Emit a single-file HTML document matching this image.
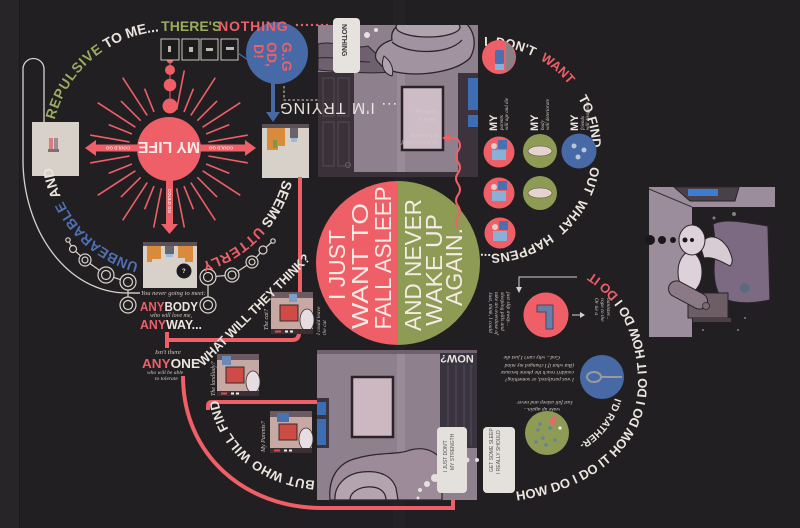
<!DOCTYPE html>
<html><head><meta charset="utf-8">
<style>
html,body{margin:0;padding:0;background:#211f21;}
svg{display:block;}
.w{fill:#ebe5de;}
.b{font-family:"Liberation Sans",sans-serif;font-weight:bold;}
.r{font-family:"Liberation Sans",sans-serif;}
.t{font-family:"Liberation Serif",serif;font-style:italic;fill:#d3cbc3;}
</style></head>
<body>
<svg width="800" height="528" viewBox="0 0 800 528" xmlns="http://www.w3.org/2000/svg">
<defs>
<path id="p1" d="M287,149 A118,118 0 1 1 169,31 L340,31"/>
<path id="p2" d="M469.9,47.6 A104,104 0 1 1 469.9,252.4"/>
<path id="p3" d="M490,503 C568,500 648,462 647,380 C646,332 626,292 588,270"/>
<path id="p4" d="M318,481 C270,478 228,450 218,400"/>
<path id="p5" d="M615,398 Q603,436 566,450"/>
<clipPath id="tp"><rect x="318" y="25" width="160" height="152"/></clipPath>
<g id="room">
<rect x="0" y="0" width="42" height="42" fill="#c5a9a2"/>
<rect x="0" y="0" width="42" height="6" fill="#6c5a62"/>
<rect x="9" y="13" width="18" height="16" fill="#cf4b45" stroke="#3a2a2c" stroke-width="1"/>
<ellipse cx="36" cy="28" rx="7" ry="11" fill="#e6dde2" stroke="#3a2f33" stroke-width="0.8"/>
<rect x="0" y="37" width="42" height="5" fill="#3a2f33"/>
<rect x="4" y="38.5" width="6" height="2" fill="#e04e48"/>
<rect x="14" y="38.5" width="3" height="2" fill="#eee"/>
<rect x="19" y="38.5" width="3" height="2" fill="#eee"/>
</g>
</defs>

<rect width="800" height="528" fill="#211f21"/>
<rect x="0" y="0" width="19" height="528" fill="#272527"/>
<line x1="19.5" y1="0" x2="19.5" y2="528" stroke="#1a191a" stroke-width="1"/>
<rect x="393" y="0" width="12" height="528" fill="#242224"/>

<!-- white loop line -->
<path d="M44,122 V69 A10.5,10.5 0 0 0 23,69 V160 C23,228 65,293 128,293 L140,293" fill="none" stroke="#d8d2cb" stroke-width="1.3"/>

<!-- left square -->
<rect x="32" y="122" width="47" height="54" fill="#d7d1ca"/>
<rect x="49" y="138" width="4" height="12" fill="#e07a80"/>
<rect x="54" y="138" width="4" height="12" fill="#9a9094"/>
<rect x="48" y="149" width="11" height="3" fill="#7a7075"/>

<!-- MY LIFE rays -->
<g stroke="#ee5f68" stroke-width="1.6">
<line x1="208.4" y1="156" x2="247.8" y2="162.9"/>
<line x1="206.1" y1="164" x2="229.3" y2="173.4"/>
<line x1="202.6" y1="170.8" x2="240.3" y2="195.3"/>
<line x1="197.3" y1="177.3" x2="217.1" y2="197.1"/>
<line x1="190.8" y1="182.6" x2="215.3" y2="220.3"/>
<line x1="184" y1="186.1" x2="193.4" y2="209.3"/>
<line x1="176.6" y1="188.3" x2="184.3" y2="227.5"/>
<line x1="161.4" y1="188.3" x2="153.7" y2="227.5"/>
<line x1="154" y1="186.1" x2="144.6" y2="209.3"/>
<line x1="147.2" y1="182.6" x2="122.7" y2="220.3"/>
<line x1="140.7" y1="177.3" x2="120.9" y2="197.1"/>
<line x1="135.4" y1="170.8" x2="97.7" y2="195.3"/>
<line x1="131.9" y1="164" x2="108.7" y2="173.4"/>
<line x1="129.6" y1="156" x2="90.2" y2="162.9"/>
<line x1="129.6" y1="142" x2="90.2" y2="135.1"/>
<line x1="131.9" y1="134" x2="108.7" y2="124.6"/>
<line x1="135.4" y1="127.2" x2="97.7" y2="102.7"/>
<line x1="140.7" y1="120.7" x2="120.9" y2="100.9"/>
<line x1="147.2" y1="115.4" x2="122.7" y2="77.7"/>
<line x1="154" y1="111.9" x2="144.6" y2="88.7"/>
<line x1="176.6" y1="109.7" x2="184.3" y2="70.5"/>
<line x1="184" y1="111.9" x2="193.4" y2="88.7"/>
<line x1="190.8" y1="115.4" x2="215.3" y2="77.7"/>
<line x1="197.3" y1="120.7" x2="217.1" y2="100.9"/>
<line x1="202.6" y1="127.2" x2="240.3" y2="102.7"/>
<line x1="206.1" y1="134" x2="229.3" y2="124.6"/>
<line x1="208.4" y1="142" x2="247.8" y2="135.1"/>
</g>
<!-- arrows -->
<rect x="95" y="144.5" width="45" height="7" fill="#ee5f68"/>
<polygon points="85,148 96,140 96,156" fill="#ee5f68"/>
<rect x="198" y="144.5" width="47" height="7" fill="#ee5f68"/>
<polygon points="256,148 245,140 245,156" fill="#ee5f68"/>
<rect x="166" y="178" width="7" height="47" fill="#ee5f68"/>
<polygon points="169.5,234 161,224 178,224" fill="#ee5f68"/>
<text class="b" font-size="4.5" fill="#f4ddd8" transform="translate(118,146.5) rotate(180)" text-anchor="middle">COULD GO</text>
<text class="b" font-size="4.5" fill="#f4ddd8" transform="translate(221,146.5) rotate(180)" text-anchor="middle">COULD GO</text>
<text class="b" font-size="4.5" fill="#f4ddd8" transform="translate(168,201) rotate(90)" text-anchor="middle">COULD GO</text>
<!-- small circles up -->
<line x1="170" y1="60" x2="170" y2="106" stroke="#ee5f68" stroke-width="1"/>
<circle cx="170" cy="106" r="7.5" fill="#ee5f68"/>
<circle cx="170" cy="85" r="6.3" fill="#ee5f68"/>
<circle cx="170" cy="70" r="5" fill="#ee5f68"/>
<circle cx="170" cy="60" r="3.3" fill="#ee5f68"/>
<!-- MY LIFE circle -->
<circle cx="169" cy="149" r="32" fill="#ee5f68"/>
<text class="b" font-size="16" fill="#f7ece6" transform="translate(169,142) rotate(180)" text-anchor="middle" textLength="62" lengthAdjust="spacingAndGlyphs">MY LIFE</text>

<!-- top small squares -->
<g stroke="#cbc5bf" stroke-width="1" fill="#1c1b1c">
<rect x="161" y="39" width="18" height="21"/>
<rect x="182" y="39" width="17" height="21"/>
<rect x="201" y="39" width="17" height="21"/>
<rect x="221" y="39" width="17" height="21"/>
</g>
<g fill="#bdb7b1"><rect x="168" y="46" width="3" height="6"/><rect x="189" y="47" width="4" height="5"/><rect x="206" y="48" width="7" height="3"/><rect x="226" y="47" width="8" height="3"/></g>
<line x1="238" y1="53" x2="248" y2="60" stroke="#4a6cab" stroke-width="1.2"/>

<!-- blue circle -->
<circle cx="277" cy="53" r="31" fill="#4769a6"/>
<rect x="271" y="82" width="4" height="32" fill="#4769a6"/>
<polygon points="273,122 266,112 280,112" fill="#4769a6"/>
<text class="b" font-size="14" fill="#ee5f68" transform="translate(282,42) rotate(90)">G..G</text>
<text class="b" font-size="14" fill="#ee5f68" transform="translate(267,42) rotate(90)">OD,</text>
<text class="b" font-size="14" fill="#ee5f68" transform="translate(254,44) rotate(90)">D!</text>
<path d="M284,86 V100 H322" fill="none" stroke="#d8d2cb" stroke-width="1" stroke-dasharray="2.5,2"/>

<!-- right square -->
<rect x="262" y="124" width="47" height="54" fill="#d7d1ca"/>
<rect x="262" y="124" width="47" height="4" fill="#5a5055"/>
<path d="M267,128 H285 V146 H278 V150 H267 Z" fill="#d98a3a"/>
<rect x="273" y="140" width="4" height="8" fill="#7a9a4a"/>
<rect x="290" y="128" width="8" height="10" fill="#6a6468"/>
<rect x="291" y="138" width="6" height="4" fill="#9ab8d8"/>

<!-- bottom square -->
<rect x="143" y="242" width="54" height="46" fill="#d7d1ca"/>
<rect x="143" y="242" width="54" height="4" fill="#5a5055"/>
<path d="M147,246 H161 V259 H152 V262 H147 Z" fill="#d98a3a"/>
<path d="M178,246 H193 V262 H185 V258 H178 Z" fill="#d98a3a"/>
<rect x="165" y="246" width="9" height="8" fill="#6a6468"/>
<rect x="166" y="254" width="7" height="3" fill="#9ab8d8"/>
<circle cx="184" cy="271" r="7.5" fill="#1d1b1d"/>
<text class="b" font-size="6" fill="#eee" x="182" y="273">?</text>

<!-- circle chains -->
<g fill="none" stroke="#d8d2cb" stroke-width="1.2">
<path d="M68,240 L73,249 L85,260 L106,275 L128,282 L128,305"/>
<circle cx="68" cy="240" r="2.2" fill="#211f21"/>
<circle cx="73" cy="249" r="3.5" fill="#211f21"/>
<circle cx="85" cy="260" r="6" fill="#211f21"/><circle cx="85" cy="260" r="3"/>
<circle cx="106" cy="275" r="8" fill="#211f21"/><circle cx="106" cy="275" r="4.5"/>
<circle cx="128" cy="282" r="8" fill="#211f21"/><circle cx="128" cy="282" r="4.5"/>
<circle cx="128" cy="305" r="8" fill="#211f21"/><circle cx="128" cy="305" r="4.5"/>
<path d="M273,241 L263,250 L252,262 L232,275 L208,277 L208,305"/>
<circle cx="273" cy="241" r="2.2" fill="#211f21"/>
<circle cx="263" cy="250" r="4" fill="#211f21"/>
<circle cx="252" cy="262" r="6" fill="#211f21"/><circle cx="252" cy="262" r="3"/>
<circle cx="232" cy="275" r="7" fill="#211f21"/><circle cx="232" cy="275" r="4"/>
<circle cx="208" cy="277" r="8" fill="#211f21"/><circle cx="208" cy="277" r="4.5"/>
<circle cx="208" cy="305" r="8" fill="#211f21"/><circle cx="208" cy="305" r="4.5"/>
</g>
<line x1="128" y1="293" x2="140" y2="293" stroke="#d8d2cb" stroke-width="1.2"/>

<!-- arc text left -->
<text class="b" font-size="14"><textPath href="#p1" startOffset="31" class="w">SEEMS</textPath></text>
<text class="b" font-size="14" letter-spacing="0.8"><textPath href="#p1" startOffset="84" fill="#ee5f68">UTTERLY</textPath></text>
<text class="b" font-size="14" letter-spacing="0.3"><textPath href="#p1" startOffset="216" fill="#4f71b3">UNBEARABLE</textPath></text>
<text class="b" font-size="14"><textPath href="#p1" startOffset="322" class="w">AND</textPath></text>
<text class="b" font-size="14" letter-spacing="0.8"><textPath href="#p1" startOffset="400" fill="#9bab5f">REPULSIVE</textPath></text>
<text class="b" font-size="14"><textPath href="#p1" startOffset="490" class="w">TO ME...</textPath></text>
<text class="b" font-size="14"><textPath href="#p1" startOffset="548" fill="#9bab5f">THERE'S</textPath></text>
<text class="b" font-size="14" letter-spacing="0.8"><textPath href="#p1" startOffset="605" fill="#ee5f68">NOTHING</textPath></text>
<g fill="#ee5f68"><circle cx="297" cy="25" r="1.2"/><circle cx="302" cy="25" r="1.2"/><circle cx="307" cy="25" r="1.2"/><circle cx="312" cy="25" r="1.2"/><circle cx="317" cy="25" r="1.2"/><circle cx="322" cy="25" r="1.2"/><circle cx="327" cy="25" r="1.2"/></g>

<!-- ANYBODY texts -->
<text class="t" font-size="6.5" x="141" y="295">You never going to meet:</text>
<text class="b" font-size="13" x="140" y="311" textLength="58" lengthAdjust="spacingAndGlyphs"><tspan fill="#ee5f68">ANY</tspan><tspan class="w">BODY</tspan></text>
<text class="t" font-size="6" x="150" y="317">who will love me,</text>
<text class="b" font-size="13" x="140" y="329" textLength="62" lengthAdjust="spacingAndGlyphs"><tspan fill="#ee5f68">ANY</tspan><tspan class="w">WAY...</tspan></text>
<text class="t" font-size="6.5" x="155" y="354">Isn't there</text>
<text class="b" font-size="13" x="142" y="368" textLength="58" lengthAdjust="spacingAndGlyphs"><tspan fill="#ee5f68">ANY</tspan><tspan class="w">ONE</tspan></text>
<text class="t" font-size="5.5" x="147" y="374">who will be able</text>
<text class="t" font-size="5.5" x="155" y="380">to tolerate</text>

<!-- pink lines -->
<g fill="none" stroke="#ee5f68" stroke-width="4">
<path d="M300,177 V292"/>
<path d="M167,340 H292 Q299,340 299,333"/>
<path d="M167,332 V348"/>
<path d="M183,376 C183,455 245,508 322,508 L453,508 L453,494"/>
<path d="M208,410 V406 Q208,402 212,402 L444,402 Q448,402 448,406 V428"/>
</g>

<!-- small panels -->
<use href="#room" transform="translate(271,292)"/>
<rect x="289" y="294" width="8" height="8" fill="#7aa0c8"/>
<use href="#room" transform="translate(217,354)"/>
<rect x="222" y="356" width="9" height="9" fill="#6a88b8"/>
<use href="#room" transform="translate(270,411)"/>
<rect x="277" y="413" width="12" height="9" fill="#4a72b0"/>
<text class="t" font-size="6" transform="translate(268,330) rotate(-90)">The cat?</text>
<text class="t" font-size="5.5" transform="translate(320,335) rotate(-90)">I could leave</text>
<text class="t" font-size="5.5" transform="translate(326,335) rotate(-90)">the cat</text>
<text class="t" font-size="6" transform="translate(215,396) rotate(-90)">The landlady?</text>
<text class="t" font-size="6" transform="translate(265,452) rotate(-90)">My Parents?</text>

<!-- WHAT WILL THEY THINK / BUT WHO WILL FIND -->
<text class="b w" font-size="13" text-anchor="middle" transform="translate(257,313) rotate(-45)" textLength="152" lengthAdjust="spacingAndGlyphs">WHAT WILL THEY THINK?</text>
<text class="b" font-size="13" letter-spacing="0.3"><textPath href="#p4" startOffset="3" class="w">BUT WHO WILL FIND</textPath></text>

<!-- TOP PANEL -->
<rect x="318" y="25" width="160" height="152" fill="#8f808e"/>
<g clip-path="url(#tp)">
<rect x="397" y="25" width="8" height="152" fill="#9a8b98"/>
<path d="M318,44 C335,40 352,50 368,46 C376,54 382,60 390,58 L392,72 C370,74 340,72 318,70 Z" fill="#6f6070" stroke="#2b2428" stroke-width="1"/>
<path d="M318,58 C335,56 352,62 370,62" fill="none" stroke="#2b2428" stroke-width="1"/>
<path d="M380,64 C370,56 378,44 392,40 C390,30 398,22 412,20 L462,20 C474,28 478,44 470,58 C456,72 420,77 396,72 C388,70 383,68 380,64 Z" fill="#a293a0" stroke="#2b2428" stroke-width="1.3"/>
<path d="M392,42 C405,54 448,56 462,40" fill="none" stroke="#2b2428" stroke-width="1.3"/>
<ellipse cx="428" cy="27" rx="32" ry="10" fill="#b1a3ad" stroke="#2b2428" stroke-width="1.3"/>
<path d="M384,56 C380,66 384,74 392,76 C394,70 392,62 384,56 Z" fill="#b1a3ad" stroke="#2b2428" stroke-width="1"/>
<rect x="318" y="72" width="36" height="102" fill="#3b3239"/>
<rect x="323" y="78" width="11" height="38" fill="none" stroke="#52474f" stroke-width="1.2"/>
<rect x="338" y="78" width="11" height="38" fill="none" stroke="#52474f" stroke-width="1.2"/>
<rect x="323" y="122" width="11" height="44" fill="none" stroke="#52474f" stroke-width="1.2"/>
<rect x="338" y="122" width="11" height="44" fill="none" stroke="#52474f" stroke-width="1.2"/>
<circle cx="348" cy="165" r="2.5" fill="none" stroke="#6a5e66"/>
<rect x="318" y="172" width="160" height="5" fill="#3b3239"/>
<rect x="402" y="87" width="41" height="63" fill="#cdbcc6" stroke="#2a2328" stroke-width="2.5"/>
<rect x="458" y="73" width="20" height="104" fill="#3c333d"/>
<rect x="468" y="78" width="10" height="32" fill="#3d6db2"/>
<rect x="468" y="115" width="10" height="12" fill="#3d6db2"/>
</g>
<text class="t" font-size="5.5" fill="#3a3035" transform="translate(438,110) rotate(180)">Sheltering...</text>
<text class="t" font-size="5.5" fill="#3a3035" transform="translate(436,118) rotate(180)">life is so</text>
<text class="t" font-size="5.5" fill="#3a3035" transform="translate(438,134) rotate(180)">Is it possible</text>
<text class="t" font-size="5.5" fill="#3a3035" transform="translate(436,141) rotate(180)">to bore yourself</text>
<!-- NOTHING bubble -->
<rect x="333" y="18" width="27" height="55" rx="4" fill="#e6e2de"/>
<text class="b" font-size="7" fill="#3a3538" transform="translate(342,24) rotate(90)">NOTHING</text>
<circle cx="367" cy="35" r="3" fill="#e6e2de"/>
<circle cx="376" cy="30" r="2" fill="#e6e2de"/>
<text class="r w" font-size="16" text-anchor="middle" transform="translate(338.5,103) rotate(180)" textLength="117" lengthAdjust="spacing">... I'M TRYING</text>

<!-- BOTTOM PANEL -->
<rect x="317" y="350" width="160" height="150" fill="#8f808e"/>
<rect x="397" y="350" width="8" height="150" fill="#9a8b98"/>
<rect x="317" y="350" width="160" height="4" fill="#6e606c"/>
<rect x="440" y="353" width="37" height="95" fill="#3a3440"/>
<g stroke="#564c58" stroke-width="1"><line x1="448" y1="365" x2="448" y2="446"/><line x1="456" y1="365" x2="456" y2="446"/><line x1="464" y1="365" x2="464" y2="446"/><line x1="471" y1="365" x2="471" y2="446"/></g>
<text class="b w" font-size="11" text-anchor="middle" transform="translate(457,355) rotate(180)">NOW?</text>
<rect x="317" y="398" width="12" height="50" fill="#3a3440"/>
<rect x="317" y="402" width="9" height="13" fill="#3d6db2"/>
<rect x="317" y="419" width="9" height="26" fill="#3d6db2"/>
<rect x="352" y="377" width="41" height="60" fill="#cdb7c1" stroke="#2a2328" stroke-width="2.5"/>
<path d="M330,500 C328,478 338,462 358,458 C378,452 398,455 410,450 C425,446 438,452 442,462 L442,500 Z" fill="#9d8b99" stroke="#2b2428" stroke-width="1.2"/>
<path d="M335,500 C334,486 345,474 362,472 C380,470 392,476 396,488 L398,500 Z" fill="#b4a4af" stroke="#2b2428" stroke-width="1.2"/>
<path d="M350,500 C350,492 360,486 372,487 C384,488 386,496 386,500" fill="none" stroke="#2b2428" stroke-width="1.2"/>
<rect x="437" y="427" width="30" height="66" rx="4" fill="#e4e0dc"/>
<rect x="483" y="427" width="32" height="66" rx="4" fill="#e4e0dc"/>
<text class="r" font-size="5" fill="#555" transform="translate(454,470) rotate(-90)">MY STRENGTH</text>
<text class="r" font-size="5" fill="#555" transform="translate(447,472) rotate(-90)">I JUST DON'T</text>
<text class="r" font-size="5" fill="#555" transform="translate(500,474) rotate(-90)">I REALLY SHOULD</text>
<text class="r" font-size="5" fill="#555" transform="translate(493,472) rotate(-90)">GET SOME SLEEP</text>
<circle cx="467" cy="460" r="2.5" fill="#e4e0dc"/>
<circle cx="477" cy="460" r="2" fill="#e4e0dc"/>
<circle cx="435" cy="478" r="4" fill="#e4e0dc"/>
<circle cx="427" cy="484" r="3" fill="#e4e0dc"/>
<circle cx="420" cy="490" r="2" fill="#e4e0dc"/>
<circle cx="418" cy="498" r="1.5" fill="#e4e0dc"/>

<!-- BIG CIRCLE -->
<path d="M398,181 A82,82 0 0 0 398,345 Z" fill="#ee5f68"/>
<path d="M398,181 A82,82 0 0 1 398,345 Z" fill="#8d9b55"/>
<g class="r" fill="#f6ece6" font-size="23" text-anchor="middle">
<text transform="translate(345,265) rotate(-90)" textLength="70" lengthAdjust="spacingAndGlyphs">I JUST</text>
<text transform="translate(368,266) rotate(-90)" textLength="126" lengthAdjust="spacingAndGlyphs">WANT TO</text>
<text transform="translate(391,258) rotate(-90)" textLength="143" lengthAdjust="spacingAndGlyphs">FALL ASLEEP</text>
<text transform="translate(421,265) rotate(-90)" textLength="132" lengthAdjust="spacingAndGlyphs">AND NEVER</text>
<text transform="translate(442,270) rotate(-90)" textLength="112" lengthAdjust="spacingAndGlyphs">WAKE UP</text>
<text transform="translate(462,267) rotate(-90)" textLength="78" lengthAdjust="spacingAndGlyphs">AGAIN.</text>
</g>
<!-- wavy arrow -->
<path d="M458,228 q-4,-5.5 0,-11 t0,-11 t0,-11 t0,-11 t0,-11 t0,-11 t0,-11 t0,-11 Q458,138 448,138" fill="none" stroke="#ee5f68" stroke-width="2"/>
<polygon points="442,138 449,134 449,142" fill="#ee5f68"/>

<!-- RIGHT ARC TEXT -->
<text class="b" font-size="13"><textPath href="#p2" startOffset="14.5" class="w">I</textPath></text>
<text class="b" font-size="13"><textPath href="#p2" startOffset="25.4" class="w">DON'T</textPath></text>
<text class="b" font-size="13"><textPath href="#p2" startOffset="72.6" fill="#ee5f68">WANT</textPath></text>
<text class="b" font-size="13"><textPath href="#p2" startOffset="127" class="w">TO</textPath></text>
<text class="b" font-size="13"><textPath href="#p2" startOffset="149" class="w">FIND</textPath></text>
<text class="b" font-size="13"><textPath href="#p2" startOffset="198" class="w">OUT</textPath></text>
<text class="b" font-size="13"><textPath href="#p2" startOffset="232" class="w">WHAT</textPath></text>
<text class="b" font-size="13"><textPath href="#p2" startOffset="279" class="w">HAPPENS...</textPath></text>

<!-- right small circles -->
<circle cx="499" cy="57" r="17" fill="#ee5f68"/>
<path d="M506,42 A17,17 0 0 1 506,72 Z" fill="#8a8088"/>
<rect x="495" y="50" width="9" height="14" rx="2" fill="#4a70b0"/>
<rect x="495" y="64" width="9" height="6" fill="#8ab0d8"/>
<circle cx="499" cy="152" r="15.5" fill="#ee5f68"/>
<circle cx="499" cy="193" r="15.5" fill="#ee5f68"/>
<circle cx="500" cy="233" r="15.5" fill="#ee5f68"/>
<circle cx="540" cy="151" r="17" fill="#8d9b55"/>
<circle cx="540" cy="193" r="17" fill="#8d9b55"/>
<circle cx="579" cy="151" r="17.5" fill="#4769a6"/>
<g fill="#8ab0d8"><path d="M492,150 h14 v10 h-14z"/><path d="M492,191 h14 v10 h-14z"/><path d="M493,231 h14 v10 h-14z"/></g>
<g fill="#4a70b0"><path d="M498,140 h9 v9 h-9z"/><path d="M498,181 h9 v9 h-9z"/><path d="M499,221 h9 v9 h-9z"/></g>
<g fill="#ddd0cc"><circle cx="494" cy="146" r="3"/><circle cx="494" cy="187" r="3"/><circle cx="495" cy="227" r="3"/></g>
<ellipse cx="540" cy="151" rx="12" ry="5" fill="#e6d3d0" stroke="#5a4a48" stroke-width="0.6"/>
<ellipse cx="540" cy="193" rx="12" ry="5" fill="#e6d3d0" stroke="#5a4a48" stroke-width="0.6"/>
<g fill="#b8c6d8"><circle cx="574" cy="146" r="2.5"/><circle cx="584" cy="150" r="2.5"/><circle cx="578" cy="157" r="2.5"/></g>
<g class="b w" font-size="11">
<text transform="translate(497,131) rotate(-90)">MY</text>
<text transform="translate(538,131) rotate(-90)">MY</text>
<text transform="translate(578,131) rotate(-90)">MY</text>
</g>
<g class="t" font-size="5">
<text transform="translate(503,130) rotate(-90)">parents</text>
<text transform="translate(508,130) rotate(-90)">will age and die</text>
<text transform="translate(544,130) rotate(-90)">body</text>
<text transform="translate(549,130) rotate(-90)">will deteriorate</text>
<text transform="translate(584,130) rotate(-90)">friends</text>
<text transform="translate(589,130) rotate(-90)">will disappear</text>
</g>

<!-- lower right -->
<path d="M577,277 H519 V288" fill="none" stroke="#d8d2cb" stroke-width="1"/>
<polygon points="519,293 516,287 522,287" fill="#d8d2cb"/>
<circle cx="546" cy="315" r="22.5" fill="#ee5f68"/>
<path d="M537,305 H553 V329 H546 V312 H537 Z" fill="#6a7fa8" stroke="#3a3a4a" stroke-width="0.8"/>
<line x1="572" y1="315" x2="581" y2="315" stroke="#d8d2cb" stroke-width="1"/>
<polygon points="585,315 580,312 580,318" fill="#d8d2cb"/>
<circle cx="602" cy="377" r="22" fill="#4769a6"/>
<ellipse cx="594" cy="377" rx="7" ry="5" fill="none" stroke="#9a9a9a" stroke-width="2"/>
<line x1="601" y1="377" x2="622" y2="377" stroke="#9a9a9a" stroke-width="2"/>
<circle cx="547" cy="433" r="22" fill="#8d9b55"/>
<g fill="#6a80a0"><circle cx="538" cy="430" r="1.8"/><circle cx="543" cy="438" r="1.8"/><circle cx="550" cy="428" r="1.8"/><circle cx="536" cy="442" r="1.8"/><circle cx="555" cy="440" r="1.8"/><circle cx="546" cy="445" r="1.8"/><circle cx="540" cy="424" r="1.8"/></g>
<rect x="551" y="416" width="5" height="9" rx="1" fill="#e06a6a" transform="rotate(25,553,420)"/>
<circle cx="560" cy="428" r="1.6" fill="#eee"/>

<g class="t" font-size="5.5">
<text transform="translate(489,292) rotate(90)">Just, think, I could</text>
<text transform="translate(495,292) rotate(90)">take an overdose of</text>
<text transform="translate(501,292) rotate(90)">sleeping pills and</text>
<text transform="translate(507,292) rotate(90)">just slip away...</text>
<text transform="translate(595,298) rotate(90)">Or tie a</text>
<text transform="translate(601,298) rotate(90)">rope to the</text>
<text transform="translate(607,298) rotate(90)">banister...</text>
<text transform="translate(560,356) rotate(180)">God... why can't I just die</text>
<text transform="translate(574,364) rotate(180)">(But what if I changed my mind</text>
<text transform="translate(574,371) rotate(180)">couldn't reach the phone because</text>
<text transform="translate(574,378) rotate(180)">I was paralyzed, or something?</text>
<text transform="translate(573,401) rotate(180)">Just fall asleep and never</text>
<text transform="translate(560,408) rotate(180)">wake up again...</text>
</g>

<text class="b" font-size="13" letter-spacing="0.3"><textPath href="#p3" startOffset="27" class="w">HOW DO I DO IT HOW DO I DO IT HOW DO I <tspan fill="#ee5f68">DO IT</tspan>?</textPath></text>
<text class="b w" font-size="10"><textPath href="#p5" startOffset="0">I'D RATHER-</textPath></text>

<!-- RIGHT BIG PANEL -->
<path d="M649,187 H775 V207 H692 V337 H649 Z" fill="#9b8d9b"/>
<line x1="649" y1="189" x2="692" y2="207" stroke="#3a3238" stroke-width="1"/>
<polygon points="674,187 739,187 735,201 690,201" fill="#4a4048" stroke="#2a2328" stroke-width="1"/>
<rect x="688" y="189" width="30" height="7" fill="#3c7dd0"/>
<path d="M713,224 C725,218 745,222 768,226 L770,300 C752,304 735,304 722,298 C714,290 712,270 716,250 Z" fill="#7c6a83" stroke="#2a2328" stroke-width="1.2"/>
<circle cx="745" cy="288" r="5" fill="#5a6a80"/>
<path d="M700,245 C708,232 720,236 728,248 C732,256 734,262 730,266 C722,262 712,256 704,258 Z" fill="#d8ccd4" stroke="#2a2328" stroke-width="1"/>
<ellipse cx="690" cy="272" rx="12" ry="20" fill="#ddd2d9" stroke="#2b2528" stroke-width="1"/>
<ellipse cx="692" cy="240" rx="13" ry="15" fill="#ddd2d9" stroke="#2b2528" stroke-width="1"/>
<rect x="688" y="293" width="40" height="25" fill="#6d5e66" stroke="#2a2328" stroke-width="1"/>
<rect x="693" y="318" width="38" height="4" fill="#4a3f45"/>
<rect x="667" y="287" width="42" height="16" rx="8" fill="#8b7a86" stroke="#2a2328" stroke-width="1" transform="rotate(28,688,295)"/>
<circle cx="706" cy="306" r="3.5" fill="#7a6a74" stroke="#2a2328" stroke-width="0.8"/>
<g fill="#1a181a"><circle cx="650" cy="240" r="5"/><circle cx="662" cy="240" r="4"/><circle cx="673" cy="240" r="3"/><circle cx="685" cy="240" r="2.5"/><circle cx="692" cy="240" r="2"/></g>
<g fill="#8a7c88"><circle cx="714" cy="218" r="1.5"/><circle cx="734" cy="214" r="2"/><circle cx="745" cy="318" r="1"/><circle cx="738" cy="330" r="1"/><circle cx="703" cy="330" r="1"/></g>
</svg>
</body></html>
